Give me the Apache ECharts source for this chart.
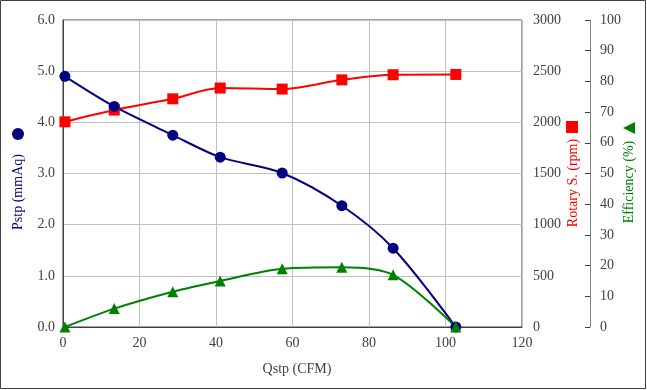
<!DOCTYPE html>
<html><head><meta charset="utf-8">
<script src="https://cdn.jsdelivr.net/npm/echarts@6/dist/echarts.min.js"></script>
<style>html,body{margin:0;padding:0;background:#fff}#c{width:647px;height:390px}</style>
</head><body><div id="c"></div>
<script>
// Data
const flowCFM = [0.5, 13.4, 28.7, 41.1, 57.3, 72.9, 86.3, 102.7];
const pstp = [4.90, 4.31, 3.75, 3.32, 3.01, 2.37, 1.54, 0.0];
const rotary = [2005, 2120, 2230, 2335, 2325, 2415, 2465, 2468];
const efficiency = [0, 6, 11.5, 15, 19, 19.5, 17, 0];
const xTicks = [0, 20, 40, 60, 80, 100, 120];

const pair = (ys) => flowCFM.map((x, i) => [x, ys[i]]);
const font = 'Liberation Serif';
const chart = echarts.init(document.getElementById('c'));
chart.setOption({
  animation: false,
  grid: { left: 63, right: 125, top: 20, bottom: 63, show: true, borderColor: '#404040', borderWidth: 1 },
  xAxis: {
    type: 'value', min: 0, max: 120, interval: 20,
    axisLine: { show: true, lineStyle: { color: '#404040' } },
    axisTick: { show: false },
    axisLabel: { fontFamily: font, fontSize: 14, color: '#404040', margin: 9 },
    splitLine: { show: true, lineStyle: { color: '#c0c0c0' } }
  },
  yAxis: [
    { type: 'value', min: 0, max: 6, interval: 1, position: 'left',
      axisLine: { show: true, lineStyle: { color: '#404040' } }, axisTick: { show: false },
      axisLabel: { fontFamily: font, fontSize: 14, color: '#404040', formatter: v => v.toFixed(1), margin: 8 },
      splitLine: { show: true, lineStyle: { color: '#c0c0c0' } } },
    { type: 'value', min: 0, max: 3000, interval: 500, position: 'right',
      axisLine: { show: false }, axisTick: { show: false },
      axisLabel: { fontFamily: font, fontSize: 14, color: '#404040', margin: 11, formatter: v => String(v) },
      splitLine: { show: false } },
    { type: 'value', min: 0, max: 100, interval: 10, position: 'right', offset: 68,
      axisLine: { show: true, lineStyle: { color: '#808080' } },
      axisTick: { show: true, inside: true, length: 5, lineStyle: { color: '#404040' } },
      axisLabel: { fontFamily: font, fontSize: 14, color: '#404040', margin: 10, formatter: v => String(v) },
      splitLine: { show: false } }
  ],
  series: [
    { type: 'line', yAxisIndex: 1, data: pair(rotary), smooth: 0.3, symbol: 'rect', symbolSize: 11,
      lineStyle: { color: '#ff0000', width: 2 }, itemStyle: { color: '#ff0000' } },
    { type: 'line', yAxisIndex: 0, data: pair(pstp), smooth: 0.3, symbol: 'circle', symbolSize: 11,
      lineStyle: { color: '#000080', width: 2 }, itemStyle: { color: '#000080' } },
    { type: 'line', yAxisIndex: 2, data: pair(efficiency), smooth: 0.3, symbol: 'triangle', symbolSize: 11,
      lineStyle: { color: '#008000', width: 2 }, itemStyle: { color: '#008000' } }
  ],
  graphic: [
    { type: 'rect', shape: { x: 0.5, y: 0.5, width: 645, height: 388 }, style: { fill: 'none', stroke: '#404040', lineWidth: 1 }, z: 100 },
    { type: 'text', x: 297, y: 369, style: { text: 'Qstp (CFM)', font: '14px ' + font, fill: '#404040', textAlign: 'center', textVerticalAlign: 'middle' } },
    { type: 'text', x: 18, y: 192, rotation: Math.PI / 2, style: { text: 'Pstp (mmAq)', font: '14px ' + font, fill: '#000080', textAlign: 'center', textVerticalAlign: 'middle' } },
    { type: 'circle', shape: { cx: 18, cy: 134, r: 6 }, style: { fill: '#000080' } },
    { type: 'text', x: 573, y: 183, rotation: Math.PI / 2, style: { text: 'Rotary S. (rpm)', font: '14px ' + font, fill: '#ff0000', textAlign: 'center', textVerticalAlign: 'middle' } },
    { type: 'rect', shape: { x: 566, y: 121, width: 12, height: 12 }, style: { fill: '#ff0000' } },
    { type: 'text', x: 629, y: 182, rotation: Math.PI / 2, style: { text: 'Efficiency (%)', font: '14px ' + font, fill: '#008000', textAlign: 'center', textVerticalAlign: 'middle' } },
    { type: 'polygon', shape: { points: [[623, 128], [635, 122], [635, 134]] }, style: { fill: '#008000' } }
  ]
});
</script></body></html>
